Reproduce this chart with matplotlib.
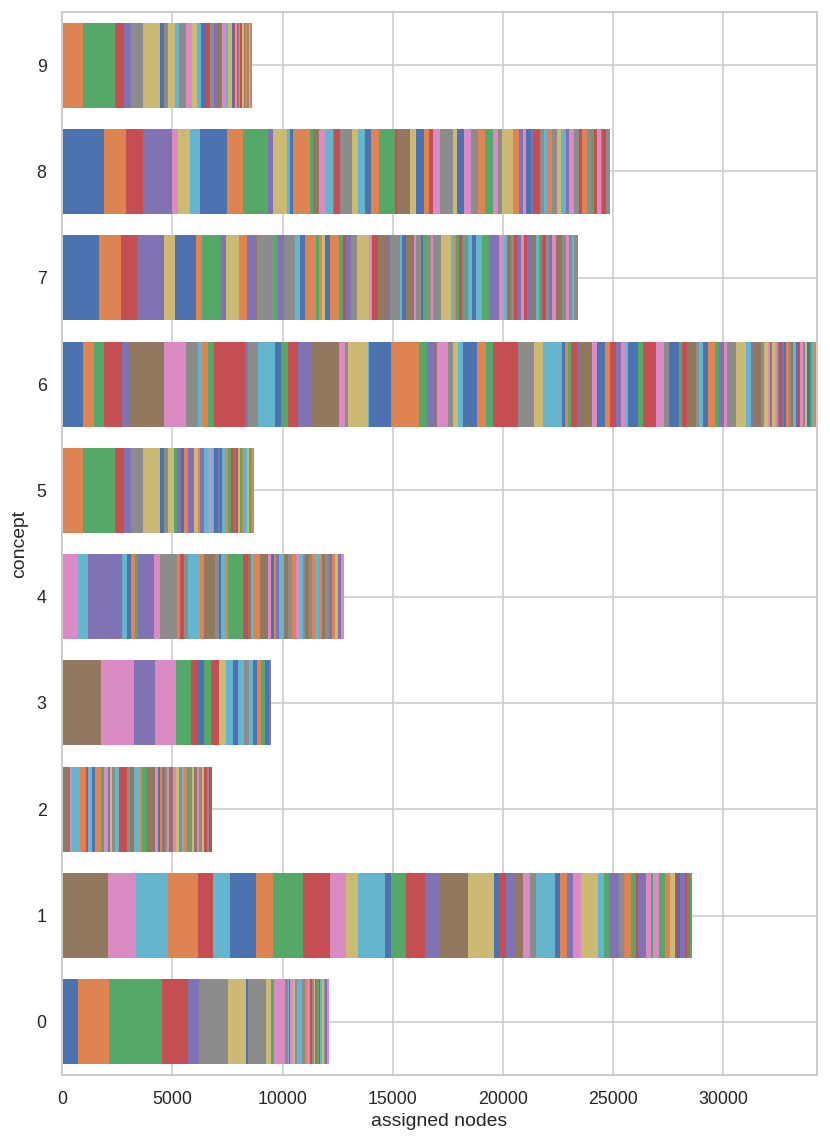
import numpy as np
import matplotlib
matplotlib.use("Agg")
import matplotlib.pyplot as plt
import seaborn as sns

# colour codes -> seaborn "deep" palette index
CODES = "bogrpnkylc"  # blue orange green red purple brown pink gray olive cyan

concepts = list(range(10))

colors_0 = "bogrpylbylgk" + "ycrklycyokcrylngrclypk"
widths_0 = [697, 1439, 2409, 1182, 500, 1318, 803, 76, 818, 242, 121, 515,
            106, 45, 76, 106, 91, 106, 227, 121, 106, 76, 76, 76, 76, 76, 76,
            76, 76, 76, 76, 76, 76, 76]

colors_1 = "nkcorcbogrklcbgrpnlbrpnkycbopklcgpyogrpkgkgolrbprng"
widths_1 = [2061, 1273, 1455, 1394, 667, 742, 1182, 773, 1379, 1242,
            727, 515, 1258, 273, 667, 879, 652, 1288, 1182, 212,
            333, 439, 318, 318, 258, 879, 212, 348, 273, 333,
            773, 288, 242, 455, 212, 303, 227, 106, 348, 227,
            121, 258, 258, 242, 242, 91, 106, 227, 121, 121, 106]

colors_2 = "nkcorcbogkplycryncognkbonyknklycogylnkylryr"
widths_2 = [348, 106, 348, 258, 121, 182, 121, 273, 152, 152,
            106, 106, 121, 182, 348, 152, 197, 258, 106, 197,
            379, 121, 106, 106, 121, 106, 91, 182, 106, 152,
            121, 106, 121, 106, 121, 121, 106, 106, 121, 106,
            121, 106, 121]

colors_3 = "nkpkgrbgrlcbcycbogbp"
widths_3 = [1742, 1530, 939, 939, 682, 303, 318, 303, 364, 318,
            303, 258, 258, 197, 182, 212, 182, 182, 152, 106]

colors_4 = "kcpcbogpky" + "oryconybco" + "grnconkbop" + "cnyokcynyo" + "conypolpk"
widths_4 = [697, 455, 1545, 227, 197, 182, 121, 727, 273, 773,
            152, 197, 152, 576, 167, 470, 182, 121, 152, 152,
            682, 212, 152, 91, 333, 348, 152, 106, 106, 121,
            227, 182, 197, 182, 197, 106, 121, 152, 152, 152,
            152, 152, 152, 152, 152, 152, 121, 121, 136]

colors_5 = "ogrpylbylgpboplopnckcbpbcogrnrlgoclg"
widths_5 = [939, 1455, 394, 333, 530, 773, 197, 197, 273, 106,
            197, 136, 167, 288, 167, 106, 152, 45, 212, 121,
            121, 152, 106, 106, 121, 121, 136, 121, 106, 91,
            106, 106, 91, 106, 106, 91, 106]

colors_6 = ("bogrpnkycogrpycbgrpnkylcbogpnk"
            "ylcbogrylcbogrpnkborpkcbgrkybgrnycbogpkylcpnyl"
            "knlkyrpboyncbrkylbgco")
widths_6 = [939, 500, 470, 788, 333, 1606, 985, 530, 212, 273,
            273, 1364, 152, 455, 758, 303, 288, 455, 621, 1242,
            303, 106, 924, 61, 1000, 1242, 379, 348, 106, 485,
            227, 242, 227, 606, 409, 348, 1106, 758, 409, 833,
            152, 121, 167, 273, 76, 576, 258, 333, 242, 273,
            227, 182, 152, 455, 212, 576, 379, 227, 455, 106,
            242, 409, 152, 152, 227, 348, 152, 258, 121, 409,
            455, 227, 152, 303, 152, 152,
            106, 106, 106, 106, 106, 106, 106, 106, 106, 106, 106,
            106, 106, 106, 106, 106, 106, 106, 106, 106, 106]

colors_7 = ("borplbogplopnygpycbogolbo"
            "grpylkrnpycbnkybgykylcogrygcbcgpkcnyrpkrpncgrypknykycy")
widths_7 = [1667, 985, 758, 1197, 515, 939, 273, 864, 242, 561,
            379, 409, 61, 742, 197, 288, 470, 258, 227, 485,
            152, 121, 121, 258, 409,
            152, 152, 242, 258, 561, 121, 273, 439, 91, 485,
            76, 182, 348, 106, 197, 106, 197, 182, 91, 348,
            439, 152, 106, 121, 121, 182, 121, 152, 182, 273,
            333, 455, 227, 152, 152, 152, 152, 152, 152, 152,
            197, 182, 152, 152, 152, 152, 152, 152, 258, 197,
            152, 121, 106, 152]

colors_8 = ("borpklcbogplcbognkcgr"
            "ylcbogrnlborkylbkyogkylopkbprycoylcpkyroygrkgry")
widths_8 = [1909, 970, 788, 1333, 273, 530, 439, 1258, 697, 1136,
            212, 636, 152, 152, 758, 121, 273, 273, 364, 61, 273,
            545, 273, 303, 288, 348, 758, 76, 606, 273, 333,
            227, 182, 348, 561, 167, 333, 303, 348, 303, 364,
            242, 152, 530, 258, 182, 121, 227, 106, 303, 197,
            152, 197, 227, 212, 197, 152, 227, 227, 152, 227,
            152, 152, 152, 152, 76, 182, 152]

colors_9 = "ogrpylbylcyklcbrypnkclbrkncrlnoylo"
widths_9 = [939, 1455, 394, 333, 530, 773, 197, 167, 333, 197,
            303, 258, 227, 197, 182, 227, 197, 182, 152, 182,
            121, 152, 76, 76, 76, 76, 76, 76, 76, 76, 76, 76, 76, 76]

all_colors = [colors_0, colors_1, colors_2, colors_3, colors_4,
              colors_5, colors_6, colors_7, colors_8, colors_9]
all_widths = [widths_0, widths_1, widths_2, widths_3, widths_4,
              widths_5, widths_6, widths_7, widths_8, widths_9]

sns.set_theme(style="whitegrid")
plt.rcParams['font.family'] = ['Liberation Sans', 'DejaVu Sans']
# original looks rendered about 1.16x larger than notebook defaults
s = 1.16
plt.rcParams.update({
    'xtick.labelsize': 11 * s, 'ytick.labelsize': 11 * s,
    'axes.labelsize': 12 * s,
    'axes.linewidth': 1.25 * s, 'grid.linewidth': 1.0 * s,
    'xtick.major.pad': 3.5 * s * 1.3, 'ytick.major.pad': 3.5 * s * 1.3,
})
palette = sns.color_palette("deep", 10)

fig, ax = plt.subplots(figsize=(8.3, 11.42), dpi=100)
fig.subplots_adjust(left=0.075, right=0.984, top=0.9895, bottom=0.0587)

totals = []
for concept, codes, widths in zip(concepts, all_colors, all_widths):
    widths = np.array(widths)
    lefts = np.concatenate([[0], np.cumsum(widths)[:-1]])
    cols = [palette[CODES.index(c)] for c in codes]
    ax.barh([concept] * len(widths), widths, left=lefts, height=0.8,
            color=cols, linewidth=0)
    totals.append(widths.sum())

ax.set_xlim(0, max(totals))
ax.set_ylim(-0.5, 9.5)
ax.set_yticks(concepts)
ax.set_xlabel("assigned nodes", labelpad=4)
ax.set_ylabel("concept", labelpad=6)

fig.savefig("out.png", dpi=100)
